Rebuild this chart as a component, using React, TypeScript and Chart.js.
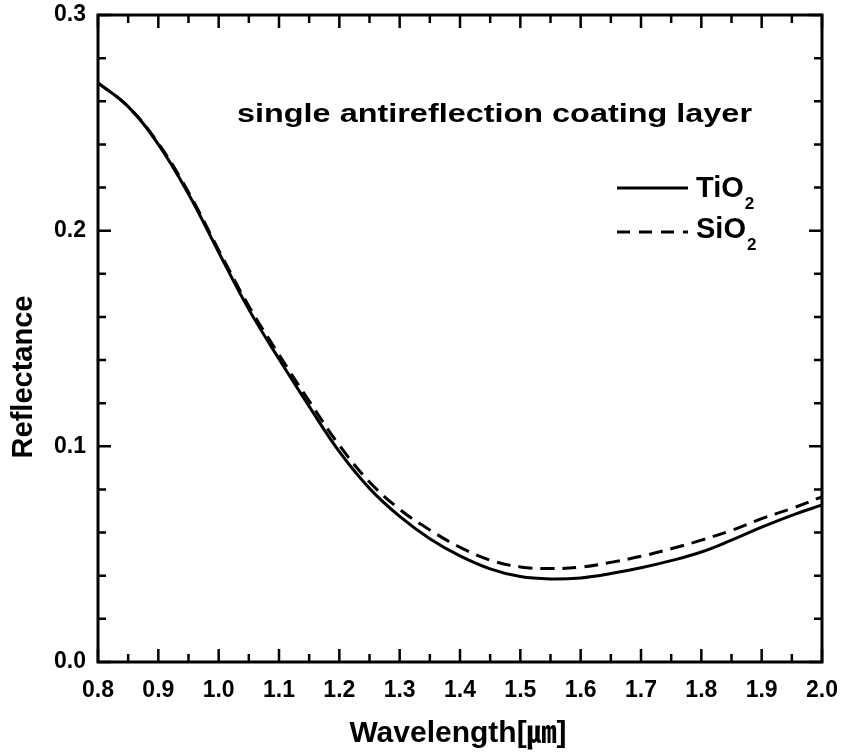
import React, { useEffect, useRef } from "react";
import { Chart, registerables } from "chart.js";

Chart.register(...registerables);

// ---- data ----
const wavelengths = [0.8, 0.85, 0.9, 0.95, 1.0, 1.05, 1.1, 1.15, 1.2, 1.25, 1.3, 1.35, 1.4, 1.45, 1.5, 1.55, 1.6, 1.65, 1.7, 1.75, 1.8, 1.85, 1.9, 1.95, 2.0];
const tio2 = [0.2685, 0.2575, 0.2400, 0.2170, 0.1900, 0.1635, 0.1405, 0.1185, 0.0975, 0.0805, 0.0675, 0.0572, 0.0492, 0.0432, 0.0396, 0.0385, 0.039, 0.041, 0.0437, 0.047, 0.051, 0.0565, 0.0625, 0.068, 0.0728];
const sio2 = [0.2685, 0.2575, 0.2405, 0.2178, 0.1910, 0.1650, 0.1425, 0.1210, 0.1005, 0.0835, 0.0708, 0.0612, 0.0532, 0.0472, 0.0441, 0.0433, 0.044, 0.0462, 0.049, 0.0525, 0.0565, 0.061, 0.0665, 0.0712, 0.0766];
const seriesBase = ["TiO", "SiO"];
const seriesSub = ["2", "2"];

const xMajorTicks = [0.8, 0.9, 1.0, 1.1, 1.2, 1.3, 1.4, 1.5, 1.6, 1.7, 1.8, 1.9, 2.0];
const xMinorTicks = [0.85, 0.95, 1.05, 1.15, 1.25, 1.35, 1.45, 1.55, 1.65, 1.75, 1.85, 1.95];
const yMajorTicks = [0.0, 0.1, 0.2, 0.3];
const yMinorTicks = [0.02, 0.04, 0.06, 0.08, 0.12, 0.14, 0.16, 0.18, 0.22, 0.24, 0.26, 0.28];

const xTitle = "Wavelength[㎛]";
const yTitle = "Reflectance";
const annotation = "single antireflection coating layer";

const FONT = '"Liberation Sans", Arial, "Noto Sans CJK JP", sans-serif';

const decorPlugin = {
  id: "decor",
  afterDraw(chart: any) {
    const { ctx, chartArea, scales } = chart;
    const { left, right, top, bottom } = chartArea;
    const x = scales.x;
    const y = scales.y;
    ctx.save();
    ctx.strokeStyle = "#000";
    ctx.fillStyle = "#000";
    ctx.lineWidth = 2.5;
    ctx.setLineDash([]);
    const majorLen = 13;
    const minorLen = 8;
    const vtick = (v: number, len: number) => {
      const px = x.getPixelForValue(v);
      ctx.beginPath();
      ctx.moveTo(px, bottom);
      ctx.lineTo(px, bottom - len);
      ctx.moveTo(px, top);
      ctx.lineTo(px, top + len);
      ctx.stroke();
    };
    const htick = (v: number, len: number) => {
      const py = y.getPixelForValue(v);
      ctx.beginPath();
      ctx.moveTo(left, py);
      ctx.lineTo(left + len, py);
      ctx.moveTo(right, py);
      ctx.lineTo(right - len, py);
      ctx.stroke();
    };
    xMajorTicks.forEach((v) => vtick(v, majorLen));
    xMinorTicks.forEach((v) => vtick(v, minorLen));
    yMajorTicks.forEach((v) => htick(v, majorLen));
    yMinorTicks.forEach((v) => htick(v, minorLen));

    ctx.lineWidth = 3;
    ctx.strokeRect(left, top, right - left, bottom - top);

    // axis titles
    ctx.font = `bold 30px ${FONT}`;
    ctx.textAlign = "center";
    ctx.textBaseline = "middle";
    ctx.fillText(xTitle, (left + right) / 2 - 2, 734);
    ctx.save();
    ctx.translate(24, 377);
    ctx.rotate(-Math.PI / 2);
    ctx.font = `bold 29px ${FONT}`;
    ctx.fillText(yTitle, 0, 0);
    ctx.restore();

    // annotation (stretched horizontally to match)
    ctx.font = `bold 26px ${FONT}`;
    ctx.textAlign = "left";
    ctx.textBaseline = "alphabetic";
    const w = ctx.measureText(annotation).width;
    const targetW = 515;
    ctx.save();
    ctx.translate(237, 122);
    ctx.scale(targetW / w, 1);
    ctx.fillText(annotation, 0, 0);
    ctx.restore();

    // legend
    const legendY = [188, 232];
    const baseY = [197, 238];
    const dashes = [[], [13, 9]];
    chart.data.datasets.forEach((ds: any, i: number) => {
      ctx.lineWidth = 3;
      ctx.setLineDash(dashes[i]);
      ctx.beginPath();
      ctx.moveTo(617, legendY[i]);
      ctx.lineTo(688, legendY[i]);
      ctx.stroke();
      ctx.setLineDash([]);
      ctx.font = `bold 29px ${FONT}`;
      ctx.textAlign = "left";
      ctx.textBaseline = "alphabetic";
      ctx.fillText(seriesBase[i], 696, baseY[i]);
      const bw = ctx.measureText(seriesBase[i]).width;
      ctx.font = `bold 17px ${FONT}`;
      ctx.fillText(seriesSub[i], 696 + bw + 1, baseY[i] + 12);
    });
    ctx.restore();
  },
};

export default function App() {
  const ref = useRef<HTMLCanvasElement | null>(null);
  useEffect(() => {
    document.body.style.margin = "0";
    const canvas = ref.current;
    if (!canvas) return;
    const chart = new Chart(canvas, {
      type: "line",
      data: {
        datasets: [
          {
            label: "TiO2",
            data: wavelengths.map((w, i) => ({ x: w, y: tio2[i] })),
            borderColor: "#000",
            borderWidth: 3,
            pointRadius: 0,
            tension: 0.4,
            fill: false,
          },
          {
            label: "SiO2",
            data: wavelengths.map((w, i) => ({ x: w, y: sio2[i] })),
            borderColor: "#000",
            borderWidth: 3,
            borderDash: [14, 8],
            pointRadius: 0,
            tension: 0.4,
            fill: false,
          },
        ],
      },
      options: {
        animation: false,
        responsive: false,
        devicePixelRatio: 1,
        layout: { padding: { left: 0, right: 21, top: 15, bottom: 0 } },
        plugins: { legend: { display: false }, tooltip: { enabled: false }, title: { display: false } },
        scales: {
          x: {
            type: "linear",
            min: 0.8,
            max: 2.0,
            grid: { display: false, drawTicks: false },
            border: { display: false },
            afterBuildTicks: (s: any) => {
              s.ticks = xMajorTicks.map((v) => ({ value: v }));
            },
            afterFit: (s: any) => {
              s.height = 94;
              s.paddingLeft = 0;
              s.paddingRight = 0;
            },
            ticks: {
              color: "#000",
              padding: 15,
              maxRotation: 0,
              font: { family: FONT, size: 23, weight: "bold" },
              callback: (v: any) => Number(v).toFixed(1),
            },
          },
          y: {
            type: "linear",
            min: 0,
            max: 0.3,
            grid: { display: false, drawTicks: false },
            border: { display: false },
            afterBuildTicks: (s: any) => {
              s.ticks = yMajorTicks.map((v) => ({ value: v }));
            },
            afterFit: (s: any) => {
              s.width = 98;
              s.paddingTop = 0;
              s.paddingBottom = 0;
            },
            ticks: {
              color: "#000",
              padding: 12,
              font: { family: FONT, size: 23, weight: "bold" },
              callback: (v: any) => Number(v).toFixed(1),
            },
          },
        },
      },
      plugins: [decorPlugin],
    } as any);
    return () => chart.destroy();
  }, []);
  return (
    <div style={{ width: 843, height: 756, background: "#fff" }}>
      <canvas ref={ref} width={843} height={756} style={{ display: "block" }} />
    </div>
  );
}
